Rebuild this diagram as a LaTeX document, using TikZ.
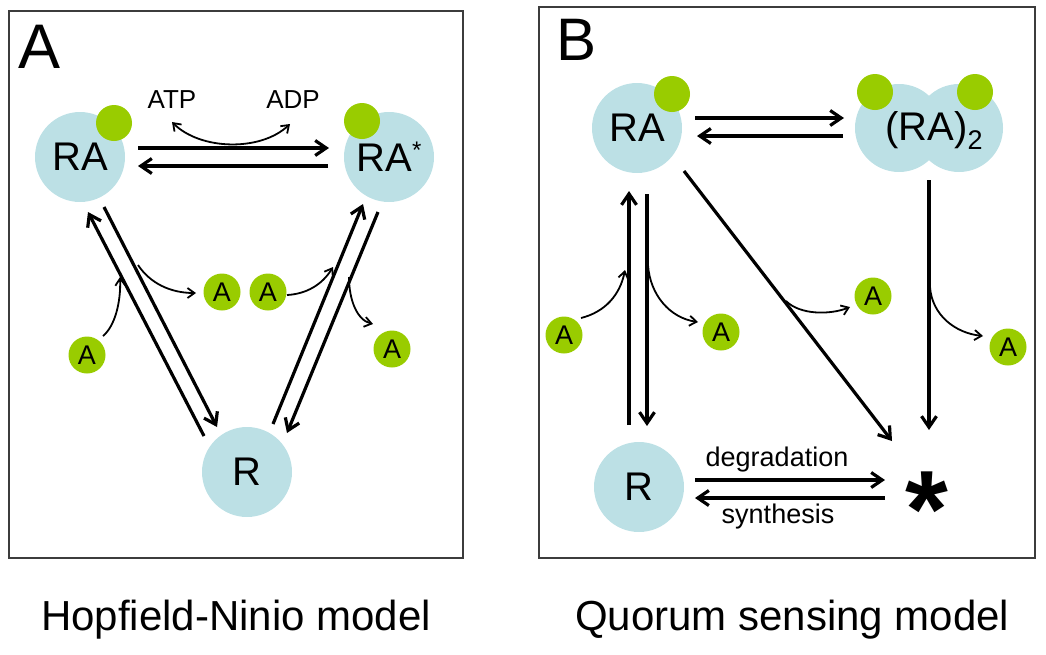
\documentclass[tikz,border=0pt]{standalone}
\usepackage{fontspec}
\setmainfont{Liberation Sans}
\usetikzlibrary{arrows.meta}
\definecolor{bluec}{RGB}{188,224,229}
\definecolor{greenc}{RGB}{153,204,0}
\definecolor{framec}{RGB}{60,60,60}
\newcommand\fsz[1]{\fontsize{#1}{#1}\selectfont}
\tikzset{
  protein/.style={circle, fill=bluec, minimum size=90pt, inner sep=0pt, font=\fsz{40}},
  ligand/.style={circle, fill=greenc, minimum size=36pt, inner sep=0pt},
  freeA/.style={circle, fill=greenc, minimum size=37pt, inner sep=0pt, font=\fsz{27}},
  mainarr/.style={line width=3.2pt, -{Straight Barb[length=11pt,width=15pt]}},
  thinarr/.style={line width=1.8pt, -{Straight Barb[length=7pt,width=10pt]}},
  framebox/.style={draw=framec, line width=1.2pt},
  lbl/.style={inner sep=0pt, font=\fsz{26}},
}
\begin{document}
\begin{tikzpicture}[x=1pt,y=-1pt]
\useasboundingbox (0,0) rectangle (1046,654);
% ---------- Panel A ----------
\draw[framebox] (9,11) rectangle (463,558);
\node[anchor=base west, inner sep=0pt, font=\fsz{63}] (labA) at (18,68) {A};

\node[protein] (RA) at (80,157) {RA};
\node[ligand] (RAg) at (114,123) {};
\node[protein] (RAs) at (389,157) {RA\raisebox{13pt}{\fsz{24}*}};
\node[ligand] (RAsg) at (362,121) {};
\node[protein] (R) at (247,472) {R};

\node[freeA] (A1) at (222,292) {A};
\node[freeA] (A2) at (268,292) {A};
\node[freeA] (A3) at (87,355) {A};
\node[freeA] (A4) at (392,349) {A};

\node[lbl] (ATP) at (172,100) {ATP};
\node[lbl] (ADP) at (293,100) {ADP};

% main arrows A
\coordinate (t1s) at (138,148); \coordinate (t1e) at (329,148);
\coordinate (t2s) at (328,166); \coordinate (t2e) at (138,166);
\coordinate (l1s) at (204,436); \coordinate (l1e) at (88,212);
\coordinate (l2s) at (104,207); \coordinate (l2e) at (217,427);
\coordinate (l3s) at (273,424); \coordinate (l3e) at (363,204);
\coordinate (l4s) at (378,212); \coordinate (l4e) at (287,433);
\draw[mainarr] (t1s) -- (t1e);
\draw[mainarr] (t2s) -- (t2e);
\draw[mainarr] (l1s) -- (l1e);
\draw[mainarr] (l2s) -- (l2e);
\draw[mainarr] (l3s) -- (l3e);
\draw[mainarr] (l4s) -- (l4e);

% thin curved arrows A
\coordinate (atpE) at (172,122); \coordinate (adpE) at (290,124);
\draw[thinarr, {Straight Barb[length=7pt,width=10pt]}-{Straight Barb[length=7pt,width=10pt]}]
  (atpE) .. controls (200,150) and (260,152) .. (adpE);
\coordinate (c1s) at (103,336); \coordinate (c1e) at (120,277);
\draw[thinarr] (c1s) .. controls (115,326) and (121,302) .. (c1e);
\coordinate (c2s) at (138,265); \coordinate (c2e) at (196,293);
\draw[thinarr] (c2s) .. controls (150,283) and (170,293) .. (c2e);
\coordinate (c3s) at (287,295); \coordinate (c3e) at (333,267);
\draw[thinarr] (c3s) .. controls (306,294) and (322,285) .. (c3e);
\coordinate (c4s) at (349,277); \coordinate (c4e) at (373,324);
\draw[thinarr] (c4s) .. controls (349,300) and (357,320) .. (c4e);

\node[anchor=base west, inner sep=0pt, font=\fsz{42}] (capA) at (41,630) {Hopfield-Ninio model};

% ---------- Panel B ----------
\draw[framebox] (539,7) rectangle (1035,558);
\node[anchor=base west, inner sep=0pt, font=\fsz{60}] (labB) at (556,60) {B};

\node[protein] (RAb) at (637,128) {RA};
\node[ligand] (RAbg) at (672,94) {};
\node[protein, minimum size=88pt] (RA2l) at (899,128) {};
\node[protein, minimum size=88pt] (RA2r) at (959,128) {};
\node[ligand] (RA2lg) at (875,92) {};
\node[ligand] (RA2rg) at (975,92) {};
\node[inner sep=0pt, font=\fsz{40}] (RA2) at (934,131) {(RA)\raisebox{-9pt}{\fsz{27}2}};
\node[protein] (Rb) at (639,487) {R};
\node[anchor=base, inner sep=0pt, font=\fsz{110}\bfseries] (star) at (927,547) {*};

\node[freeA] (B1) at (564,335) {A};
\node[freeA] (B2) at (721,332) {A};
\node[freeA] (B3) at (873,296) {A};
\node[freeA] (B4) at (1008,347) {A};

\node[lbl, font=\fsz{27}] (deg) at (777,460) {degradation};
\node[lbl, font=\fsz{27}] (syn) at (778,517) {synthesis};

\coordinate (u1s) at (695,118); \coordinate (u1e) at (844,118);
\coordinate (u2s) at (843,136); \coordinate (u2e) at (697,136);
\coordinate (v1s) at (629,425); \coordinate (v1e) at (629,191);
\coordinate (v2s) at (647,194); \coordinate (v2e) at (647,426);
\coordinate (dgs) at (684,171); \coordinate (dge) at (892,441);
\coordinate (vds) at (929,180); \coordinate (vde) at (929,430);
\coordinate (h1s) at (695,480); \coordinate (h1e) at (885,480);
\coordinate (h2s) at (885,498); \coordinate (h2e) at (695,498);
\draw[mainarr] (u1s) -- (u1e);
\draw[mainarr] (u2s) -- (u2e);
\draw[mainarr] (v1s) -- (v1e);
\draw[mainarr] (v2s) -- (v2e);
\draw[mainarr] (dgs) -- (dge);
\draw[mainarr] (vds) -- (vde);
\draw[mainarr] (h1s) -- (h1e);
\draw[mainarr] (h2s) -- (h2e);

\coordinate (d1s) at (581,318); \coordinate (d1e) at (625,270);
\draw[thinarr] (d1s) .. controls (605,312) and (620,295) .. (d1e);
\coordinate (d2s) at (648,265); \coordinate (d2e) at (698,322);
\draw[thinarr] (d2s) .. controls (650,295) and (670,318) .. (d2e);
\coordinate (d3s) at (786,301); \coordinate (d3e) at (850,307);
\draw[thinarr] (d3s) .. controls (800,315) and (830,315) .. (d3e);
\coordinate (d4s) at (930,287); \coordinate (d4e) at (983,336);
\draw[thinarr] (d4s) .. controls (932,315) and (955,333) .. (d4e);

\node[anchor=base west, inner sep=0pt, font=\fsz{42}] (capB) at (575,630) {Quorum sensing model};
\end{tikzpicture}
\end{document}
